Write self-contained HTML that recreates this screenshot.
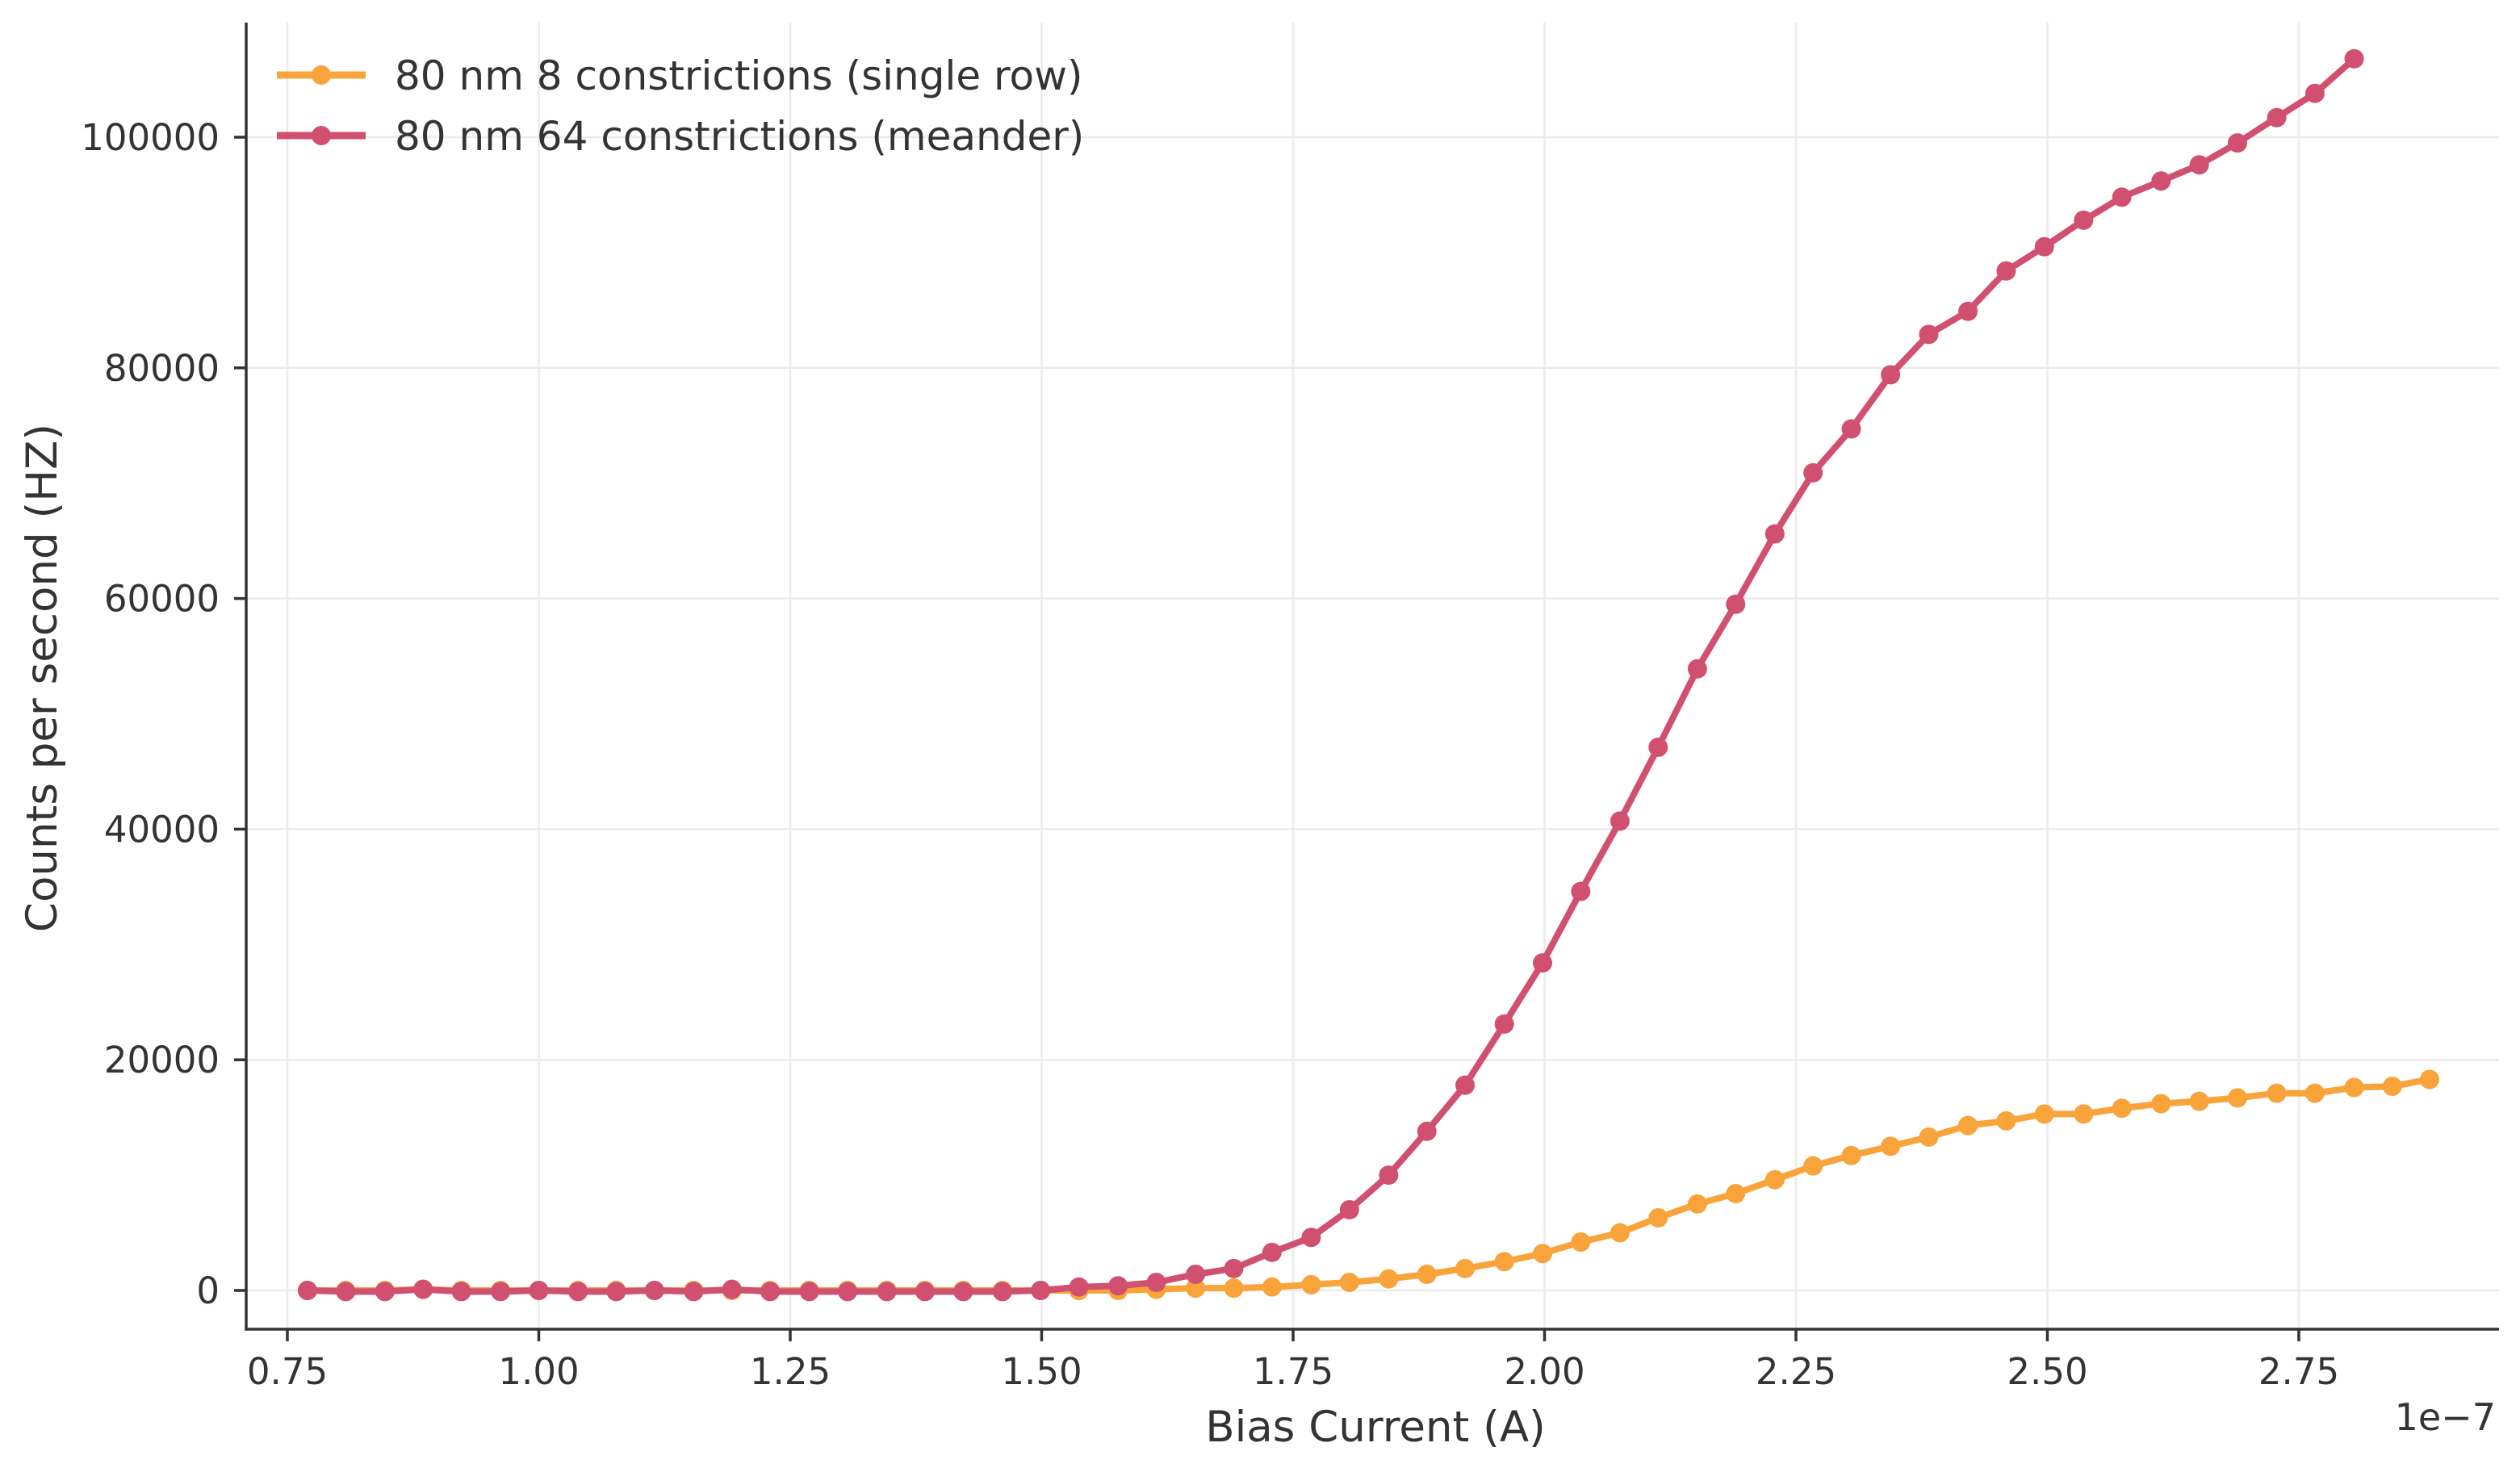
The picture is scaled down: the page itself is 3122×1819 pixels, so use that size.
<!DOCTYPE html>
<html><head><meta charset="utf-8"><style>
html,body{margin:0;padding:0;background:#fff;}
svg{display:block;font-family:"DejaVu Sans","Liberation Sans",sans-serif;}
</style></head><body>
<svg id="chart" width="3122" height="1819" viewBox="0 0 3122 1819" xmlns="http://www.w3.org/2000/svg">
<g id="grid"></g>
<g id="axes"></g>
<g id="series"></g>
<g id="legend">
  <g>
    <line x1="343" y1="93" x2="453" y2="93" stroke="#f9a33b" stroke-width="9"/>
    <circle cx="398" cy="93" r="12" fill="#f9a33b"/>
    <text x="489" y="111" font-size="50" fill="#333">80 nm 8 constrictions (single row)</text>
  </g>
  <g>
    <line x1="343" y1="168" x2="453" y2="168" stroke="#d15070" stroke-width="9"/>
    <circle cx="398" cy="168" r="12" fill="#d15070"/>
    <text x="489" y="186" font-size="50" fill="#333">80 nm 64 constrictions (meander)</text>
  </g>
</g>
<text x="1704" y="1786" font-size="53" fill="#333" text-anchor="middle">Bias Current (A)</text>
<text transform="translate(70,840) rotate(-90)" font-size="53" fill="#333" text-anchor="middle">Counts per second (HZ)</text>
<text x="3092" y="1772" font-size="46" fill="#333" text-anchor="end">1e−7</text>
</svg>
<script>
const xValues=[0.770,0.808,0.847,0.885,0.923,0.962,1.000,1.039,1.077,1.115,1.154,1.192,1.230,1.269,1.307,1.346,1.384,1.422,1.461,1.499,1.537,1.576,1.614,1.653,1.691,1.729,1.768,1.806,1.845,1.883,1.921,1.960,1.998,2.036,2.075,2.113,2.152,2.190,2.229,2.267,2.305,2.344,2.382,2.421,2.459,2.497,2.536,2.574,2.613,2.651,2.689,2.728,2.766,2.805,2.843,2.880];
const singleRow=[0,0,0,100,0,0,0,0,0,0,0,0,0,0,0,0,0,0,0,0,0,0,100,200,200,300,500,700,1000,1400,1900,2500,3200,4200,5000,6300,7500,8400,9600,10800,11700,12500,13300,14300,14700,15300,15300,15800,16200,16400,16700,17100,17100,17600,17700,18300];
const meander=[0,-100,-100,100,-100,-100,0,-100,-100,0,-100,100,-100,-100,-100,-100,-100,-100,-100,0,300,400,700,1400,1900,3300,4600,7000,10000,13800,17800,23100,28400,34600,40700,47100,53900,59500,65600,70900,74700,79400,82900,84900,88400,90500,92800,94800,96200,97600,99500,101700,103800,106800];
const xTicks=[0.75,1.00,1.25,1.50,1.75,2.00,2.25,2.50,2.75];
const xTickLabels=["0.75","1.00","1.25","1.50","1.75","2.00","2.25","2.50","2.75"];
const yTicks=[0,20000,40000,60000,80000,100000];
const yTickLabels=["0","20000","40000","60000","80000","100000"];

const NS="http://www.w3.org/2000/svg";
const L=305,R=3096,T=28,B=1647;
function sx(v){return 356+(v-0.75)/0.25*311.5;}
function sy(v){return 1599-v*0.014290;}
function mk(tag,attrs,parent){const e=document.createElementNS(NS,tag);for(const k in attrs)e.setAttribute(k,attrs[k]);parent.appendChild(e);return e;}
const grid=document.getElementById('grid'),axes=document.getElementById('axes'),series=document.getElementById('series');
xTicks.forEach((t,i)=>{
  const g=mk('line',{x1:sx(t),x2:sx(t),y1:T,y2:B,stroke:'#ebebeb','stroke-width':2.5},grid);
  
  
  const tk=mk('line',{x1:sx(t),x2:sx(t),y1:B,y2:B+15,stroke:'#333','stroke-width':3.5},axes);
  
  
  const tx=mk('text',{x:sx(t),y:1715,'font-size':45,fill:'#333','text-anchor':'middle'},axes);
  tx.textContent=xTickLabels[i];
  
  
});
yTicks.forEach((t,i)=>{
  const g=mk('line',{x1:L,x2:R,y1:sy(t),y2:sy(t),stroke:'#ebebeb','stroke-width':2.5},grid);
  
  
  const tk=mk('line',{x1:L-15,x2:L,y1:sy(t),y2:sy(t),stroke:'#333','stroke-width':3.5},axes);
  
  
  const tx=mk('text',{x:272,y:sy(t)+16,'font-size':45,fill:'#333','text-anchor':'end'},axes);
  tx.textContent=yTickLabels[i];
  
  
});
const sp1=mk('line',{x1:L,x2:L,y1:T,y2:B+1.75,stroke:'#333','stroke-width':3.5},axes);


const sp2=mk('line',{x1:L-1.75,x2:R,y1:B,y2:B,stroke:'#333','stroke-width':3.5},axes);


function drawSeries(vals,color,name){
  const g=mk('g',{},series);
  
  
  const pts=vals.map((v,i)=>sx(xValues[i])+','+sy(v)).join(' ');
  const pl=mk('polyline',{points:pts,fill:'none',stroke:color,'stroke-width':8,'stroke-linejoin':'round'},g);
  
  
  vals.forEach((v,i)=>{
    const c=mk('circle',{cx:sx(xValues[i]),cy:sy(v),r:12,fill:color},g);
    
    
  });
}
drawSeries(singleRow,'#f9a33b','single-row-series');
drawSeries(meander,'#d15070','meander-series');
</script>
</body></html>
